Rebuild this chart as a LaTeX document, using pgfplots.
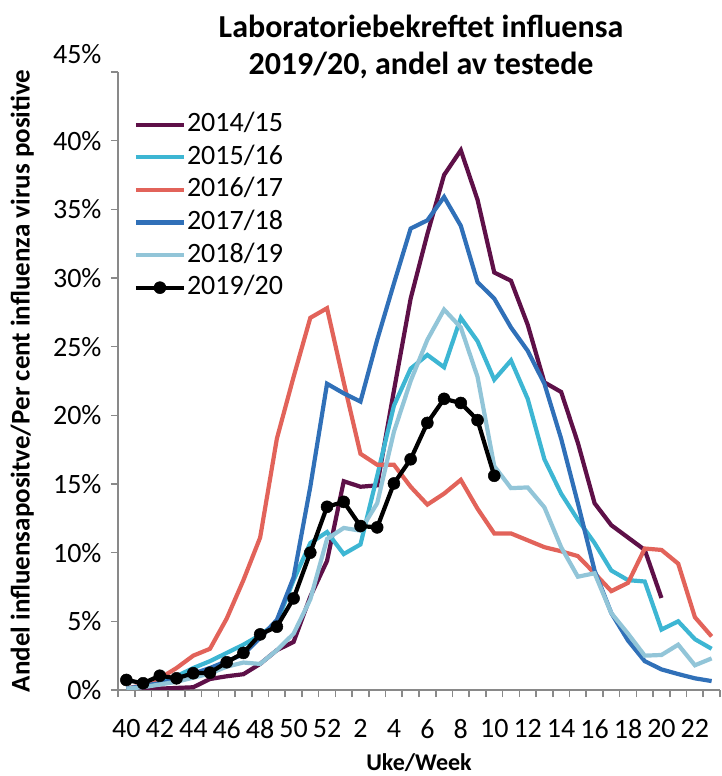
\documentclass[border=0pt]{standalone}
\usepackage{fontspec}
\setmainfont{Carlito}
\usepackage{pgfplots}
\pgfplotsset{compat=1.18}
\definecolor{cA}{RGB}{94,16,72}
\definecolor{cB}{RGB}{61,182,211}
\definecolor{cC}{RGB}{226,99,90}
\definecolor{cD}{RGB}{48,112,184}
\definecolor{cE}{RGB}{146,197,216}
\definecolor{axgray}{RGB}{137,137,137}
\begin{document}
\begin{tikzpicture}[x=1pt,y=1pt]
\useasboundingbox (0,0) rectangle (722,776);
\begin{axis}[
  at={(118pt,86pt)}, anchor=south west,
  scale only axis, width=602pt, height=618pt,
  xmin=-0.5, xmax=35.5, ymin=0, ymax=45,
  axis x line*=bottom, axis y line*=left,
  axis line style={draw=axgray, line width=1.6pt},
  every tick/.style={draw=axgray, line width=1.6pt},
  tick align=outside, major tick length=7pt,
  xtick={-0.5,0.5,...,35.5},
  x tick label as interval,
  xticklabels={40,,42,,44,,46,,48,,50,,52,,2,,4,,6,,8,,10,,12,,14,,16,,18,,20,,22,},
  ytick={0,5,...,45},
  yticklabels={0\%,5\%,10\%,15\%,20\%,25\%,30\%,35\%,40\%,\raisebox{36pt}{45\%}},
  ticklabel style={font=\fontsize{28}{28}\selectfont},
  xticklabel style={yshift=-19pt},
  yticklabel style={xshift=-6pt},
  xlabel={Uke/Week},
  ylabel={Andel influensapositve/Per cent influenza virus positive},
  xlabel style={font=\bfseries\fontsize{24}{24}\selectfont, at={(axis description cs:0.5,-0.117)}, anchor=center},
  ylabel style={font=\bfseries\fontsize{27}{27}\selectfont, at={(axis description cs:-0.159,0.5)}, anchor=center},
  legend style={at={(axis description cs:0.021,0.941)}, anchor=north west, draw=none, fill=none,
     font=\fontsize{28}{28}\selectfont, row sep=4.6pt,
     nodes={inner sep=1pt, text height=20pt, text depth=6pt}},
  legend cell align=left,
  legend image code/.code={\draw[mark repeat=2,mark phase=2,#1] plot coordinates {(0pt,0pt) (24pt,0pt) (48pt,0pt)};},
  every axis plot/.append style={line width=4.2pt},
]
\addplot[cA, mark=none] coordinates {
(0,0.0)(1,0.0)(2,0.1)(3,0.15)(4,0.2)(5,0.8)(6,1.0)(7,1.15)(8,1.9)(9,2.9)(10,3.5)(11,6.8)(12,9.4)
(13,15.2)(14,14.8)(15,14.9)(16,21.8)(17,28.5)(18,33.2)(19,37.5)(20,39.3)(21,35.7)(22,30.4)(23,29.8)
(24,26.6)(25,22.4)(26,21.7)(27,18.0)(28,13.6)(29,12.0)(30,11.1)(31,10.2)(32,6.7)};
\addlegendentry{2014/15}
\addplot[cB, mark=none] coordinates {
(0,0.1)(1,0.3)(2,0.6)(3,1.0)(4,1.6)(5,2.1)(6,2.7)(7,3.3)(8,4.0)(9,4.9)(10,8.0)(11,10.7)(12,11.5)
(13,9.9)(14,10.6)(15,15.6)(16,20.7)(17,23.4)(18,24.4)(19,23.5)(20,27.1)(21,25.4)(22,22.6)(23,24.0)
(24,21.2)(25,16.8)(26,14.3)(27,12.4)(28,10.7)(29,8.7)(30,8.0)(31,7.9)(32,4.4)(33,5.0)(34,3.7)(35,3.0)};
\addlegendentry{2015/16}
\addplot[cC, mark=none] coordinates {
(0,0.1)(1,0.36)(2,0.85)(3,1.6)(4,2.5)(5,3.0)(6,5.2)(7,8.0)(8,11.1)(9,18.3)(10,22.8)(11,27.1)(12,27.8)
(13,22.4)(14,17.2)(15,16.4)(16,16.4)(17,14.8)(18,13.5)(19,14.3)(20,15.3)(21,13.2)(22,11.4)(23,11.4)
(24,10.9)(25,10.4)(26,10.1)(27,9.75)(28,8.5)(29,7.2)(30,7.8)(31,10.3)(32,10.2)(33,9.2)(34,5.3)(35,3.9)};
\addlegendentry{2016/17}
\addplot[cD, mark=none] coordinates {
(0,0.1)(1,0.3)(2,0.5)(3,0.8)(4,1.2)(5,1.6)(6,2.1)(7,2.6)(8,3.8)(9,5.1)(10,8.2)(11,14.8)(12,22.3)
(13,21.6)(14,21.0)(15,25.5)(16,29.6)(17,33.6)(18,34.2)(19,35.9)(20,33.8)(21,29.7)(22,28.5)(23,26.4)
(24,24.7)(25,22.3)(26,18.3)(27,13.6)(28,8.7)(29,5.6)(30,3.6)(31,2.1)(32,1.5)(33,1.16)(34,0.85)(35,0.65)};
\addlegendentry{2017/18}
\addplot[cE, mark=none] coordinates {
(0,0.1)(1,0.2)(2,0.4)(3,0.6)(4,0.9)(5,1.2)(6,1.7)(7,2.0)(8,1.9)(9,2.9)(10,4.1)(11,6.6)(12,11.0)
(13,11.8)(14,11.6)(15,13.6)(16,18.8)(17,22.5)(18,25.5)(19,27.7)(20,26.4)(21,22.8)(22,16.3)(23,14.7)
(24,14.75)(25,13.3)(26,10.4)(27,8.25)(28,8.5)(29,5.6)(30,4.1)(31,2.5)(32,2.55)(33,3.3)(34,1.8)(35,2.3)};
\addlegendentry{2018/19}
\addplot[black, mark=*, mark size=6pt, mark options={line width=0.5pt, fill=black}] coordinates {
(0,0.73)(1,0.49)(2,1.04)(3,0.85)(4,1.22)(5,1.26)(6,2.02)(7,2.70)(8,4.05)(9,4.61)(10,6.67)(11,10.0)(12,13.34)
(13,13.7)(14,11.94)(15,11.84)(16,15.04)(17,16.8)(18,19.45)(19,21.2)(20,20.9)(21,19.65)(22,15.6)};
\addlegendentry{2019/20}
\end{axis}
\node[font=\bfseries\fontsize{32}{37}\selectfont, align=center] at (421,729.5) {Laboratoriebekreftet influensa\\2019/20, andel av testede};
\end{tikzpicture}
\end{document}
